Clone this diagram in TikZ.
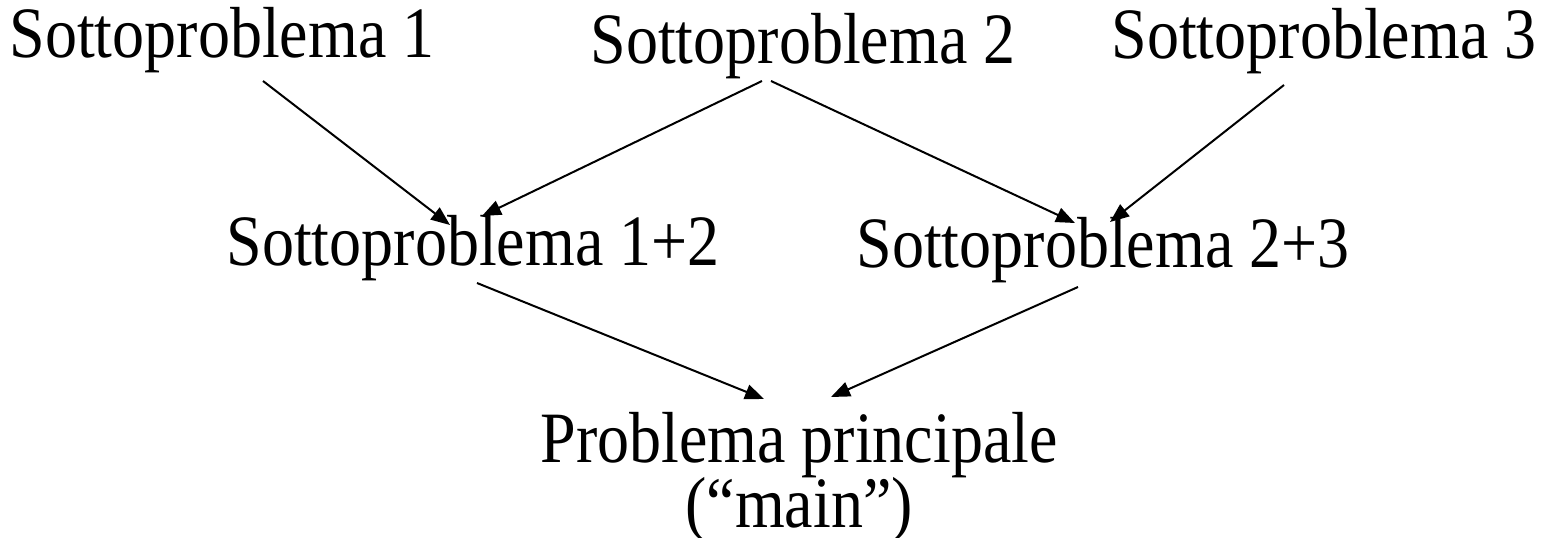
\documentclass[tikz,border=0pt]{standalone}
\usepackage{fontspec}
\setmainfont{Liberation Serif}
\usetikzlibrary{arrows.meta}
\newcommand{\tall}[1]{\scalebox{1}[1.13]{#1}}
\begin{document}
\begin{tikzpicture}[x=1pt,y=1pt,
  lbl/.style={anchor=base,inner sep=0pt,font=\fontsize{64}{64}\selectfont},
  arr/.style={line width=2pt,-{Triangle[length=19pt,width=15pt]}}]
\useasboundingbox (0,0) rectangle (1543,-538);
\node[lbl] (s1) at (222,-57) {\tall{Sottoproblema 1}};
\node[lbl] (s2) at (803,-63) {\tall{Sottoproblema 2}};
\node[lbl] (s3) at (1324,-58) {\tall{Sottoproblema 3}};
\node[lbl] (s12) at (473,-265) {\tall{Sottoproblema 1+2}};
\node[lbl] (s23) at (1103,-267) {\tall{Sottoproblema 2+3}};
\node[lbl] (main) at (799,-462) {\tall{Problema principale}};
\node[lbl] (mainq) at (799,-527) {\tall{(“main”)}};
\draw[arr] ([shift={(41,-24)}]s1.base) -- ([shift={(-23,40)}]s12.base);
\draw[arr] ([shift={(-41,-18)}]s2.base) -- ([shift={(9,49)}]s12.base);
\draw[arr] ([shift={(-32,-18)}]s2.base) -- ([shift={(-28,44)}]s23.base);
\draw[arr] ([shift={(-40,-27)}]s3.base) -- ([shift={(7,45)}]s23.base);
\draw[arr] ([shift={(4,-18)}]s12.base) -- ([shift={(-35,63)}]main.base);
\draw[arr] ([shift={(-25,-20)}]s23.base) -- ([shift={(32,65)}]main.base);
\end{tikzpicture}
\end{document}
